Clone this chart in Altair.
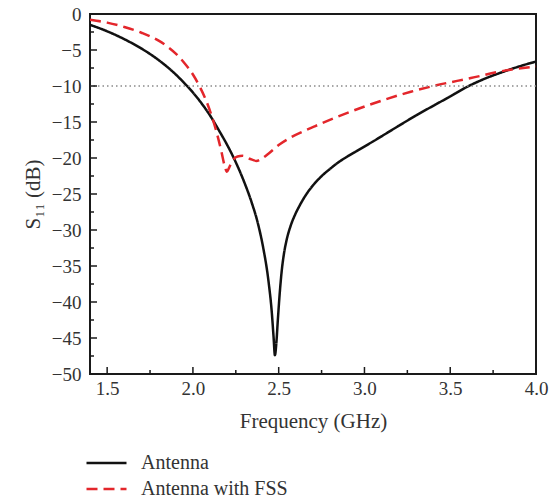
import altair as alt
import pandas as pd

# ---- data ----
series_names = ["Antenna", "Antenna with FSS"]

freq_antenna = [1.40, 1.50, 1.60, 1.70, 1.80, 1.90, 1.95, 2.00, 2.05, 2.10, 2.15, 2.20, 2.25,
                2.30, 2.34, 2.38, 2.41, 2.44, 2.46, 2.47, 2.478, 2.486, 2.495, 2.507, 2.518,
                2.53, 2.547, 2.57, 2.595, 2.62, 2.654, 2.70, 2.751, 2.80, 2.848, 2.90, 2.95,
                3.05, 3.188, 3.30, 3.42, 3.50, 3.60, 3.70, 3.80, 3.90, 4.00]
s11_antenna = [-1.5, -2.4, -3.5, -4.8, -6.4, -8.4, -9.6, -10.9, -12.4, -14.1, -16.1, -18.2, -20.6,
               -23.4, -26.0, -29.2, -32.5, -37.0, -41.5, -44.8, -47.4, -45.8, -42.5, -38.5, -35.6,
               -33.4, -31.3, -29.4, -27.9, -26.7, -25.3, -23.8, -22.5, -21.5, -20.6, -19.8, -19.1,
               -17.7, -15.7, -14.1, -12.5, -11.45, -10.1, -9.0, -8.1, -7.3, -6.6]

freq_fss = [1.40, 1.50, 1.60, 1.70, 1.80, 1.85, 1.90, 1.95, 2.00, 2.04, 2.08, 2.11, 2.14, 2.165,
            2.185, 2.198, 2.21, 2.23, 2.26, 2.29, 2.33, 2.37, 2.40, 2.44, 2.50, 2.566,
            2.644, 2.71, 2.84, 3.03, 3.27, 3.42, 3.62, 3.81, 4.00]
s11_fss = [-0.8, -1.2, -1.8, -2.6, -3.7, -4.5, -5.5, -6.8, -8.4, -10.1, -12.2, -14.2, -16.6, -19.0,
           -21.1, -21.9, -21.4, -20.4, -19.8, -19.7, -20.1, -20.4, -20.1, -19.4, -18.2, -17.2,
           -16.3, -15.6, -14.3, -12.6, -10.8, -9.9, -8.9, -7.9, -7.3]

x_major_ticks = [1.5, 2.0, 2.5, 3.0, 3.5, 4.0]
x_minor_ticks = [1.75, 2.25, 2.75, 3.25, 3.75]
y_major_ticks = [0, -5, -10, -15, -20, -25, -30, -35, -40, -45, -50]
y_minor_ticks = [-2.5, -7.5, -12.5, -17.5, -22.5, -27.5, -32.5, -37.5, -42.5, -47.5]
threshold_db = [-10]

# ---- layout / style ----
PLOT_W, PLOT_H = 446, 360
FONT = "Liberation Serif"
TEXT_COLOR = "#333333"
FRAME = "#1a1a1a"

df = pd.concat([
    pd.DataFrame({"freq": freq_antenna, "s11": s11_antenna, "series": series_names[0]}),
    pd.DataFrame({"freq": freq_fss, "s11": s11_fss, "series": series_names[1]}),
], ignore_index=True)

xscale = alt.Scale(domain=[1.4, 4.0], nice=False, zero=False)
yscale = alt.Scale(domain=[-50, 0], nice=False, zero=False)

xaxis = alt.Axis(values=x_major_ticks, format=".1f", title="Frequency (GHz)",
                 labelPadding=5, titlePadding=12, labelOverlap=False, labelFlush=False)
yaxis = alt.Axis(values=y_major_ticks, format="d", title="S₁₁ (dB)", labelPadding=9, titlePadding=8,
                 labelOverlap=False, labelFlush=False)

legend = alt.Legend(
    title=None, orient="none", legendX=-5, legendY=439, direction="vertical",
    symbolType="stroke", symbolSize=1600, symbolStrokeWidth=2.5, clipHeight=20,
    labelFont=FONT, labelFontSize=20, labelColor=TEXT_COLOR, labelOffset=13, rowPadding=6,
)

lines = alt.Chart(df).mark_line(strokeWidth=2.5, interpolate="monotone", clip=True).encode(
    x=alt.X("freq:Q", scale=xscale, axis=xaxis),
    y=alt.Y("s11:Q", scale=yscale, axis=yaxis),
    color=alt.Color("series:N", scale=alt.Scale(domain=series_names, range=["#111111", "#e3262b"]),
                    legend=legend),
    strokeDash=alt.StrokeDash("series:N", scale=alt.Scale(domain=series_names, range=[[1, 0], [11, 6]]),
                              legend=legend),
)

ref = alt.Chart(pd.DataFrame({"s11": threshold_db})).mark_rule(
    color="#8a8a8a", strokeWidth=1.3, strokeDash=[1.5, 3]
).encode(y=alt.Y("s11:Q", scale=yscale, axis=yaxis))

def xticks(vals, length):
    return alt.Chart(pd.DataFrame({"freq": vals})).mark_rule(color=FRAME, strokeWidth=1.5).encode(
        x=alt.X("freq:Q", scale=xscale, axis=xaxis), y=alt.value(PLOT_H), y2=alt.value(PLOT_H - length))

def yticks(vals, length):
    return alt.Chart(pd.DataFrame({"s11": vals})).mark_rule(color=FRAME, strokeWidth=1.5).encode(
        y=alt.Y("s11:Q", scale=yscale, axis=yaxis), x=alt.value(0), x2=alt.value(length))

chart = alt.layer(
    lines, ref,
    xticks(x_major_ticks, 7), xticks(x_minor_ticks, 4),
    yticks(y_major_ticks, 7), yticks(y_minor_ticks, 4),
).properties(
    width=PLOT_W, height=PLOT_H,
    autosize=alt.AutoSizeParams(type="none"),
    padding={"left": 90, "top": 14, "right": 13, "bottom": 130},
).configure_axis(
    labelFont=FONT, labelFontSize=19, labelColor=TEXT_COLOR,
    titleFont=FONT, titleFontSize=21, titleColor=TEXT_COLOR, titleFontWeight="normal",
    ticks=False, domain=False, grid=False,
).configure_view(stroke=FRAME, strokeWidth=2)

chart.save("out.html", embed_options={"renderer": "svg", "actions": False})
